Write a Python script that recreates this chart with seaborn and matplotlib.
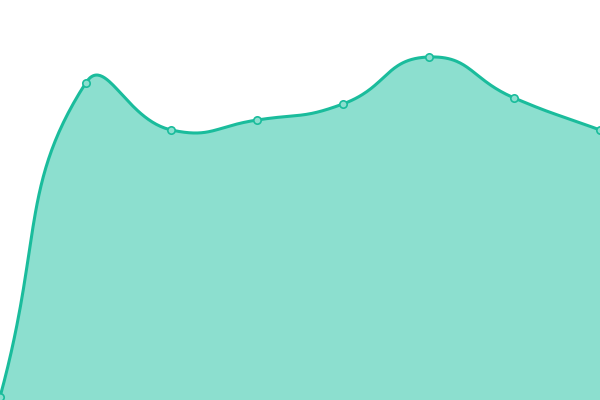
import numpy as np
import pandas as pd
import seaborn as sns
import matplotlib
matplotlib.use("Agg")
import matplotlib.pyplot as plt

# chart data
x_idx = [0, 1, 2, 3, 4, 5, 6, 7]
values = [3, 317, 270, 280, 296, 343, 302, 270]

line_color = "#1abc9c"
fill_color = "#8cdfcf"

sns.set_style("white")

# smooth bezier path like echarts smooth line (in pixel-ish space)
x_scale = 600 / 7
px = np.array(x_idx) * x_scale
py = np.array(values, dtype=float)
smooth = 0.5
n = len(px)
cps = []
for i in range(n):
    pi = max(i - 1, 0)
    ni = min(i + 1, n - 1)
    vx = px[ni] - px[pi]
    vy = py[ni] - py[pi]
    l0 = np.hypot(px[i] - px[pi], py[i] - py[pi])
    l1 = np.hypot(px[ni] - px[i], py[ni] - py[i])
    r = l1 / (l0 + l1)
    prev_cp = (px[i] - vx * smooth * (1 - r), py[i] - vy * smooth * (1 - r))
    next_cp = (px[i] + vx * smooth * r, py[i] + vy * smooth * r)
    cps.append((prev_cp, next_cp))

xs, ys = [], []
t = np.linspace(0, 1, 60)
for i in range(n - 1):
    p0 = np.array([px[i], py[i]])
    p1 = np.array(cps[i][1])
    p2 = np.array(cps[i + 1][0])
    p3 = np.array([px[i + 1], py[i + 1]])
    b = ((1 - t) ** 3)[:, None] * p0 + (3 * (1 - t) ** 2 * t)[:, None] * p1 \
        + (3 * (1 - t) * t ** 2)[:, None] * p2 + (t ** 3)[:, None] * p3
    xs.extend(b[:, 0] / x_scale)
    ys.extend(b[:, 1])

curve = pd.DataFrame({"x": xs, "y": ys})
pts = pd.DataFrame({"x": x_idx, "y": values})

fig = plt.figure(figsize=(6, 4), dpi=100)
ax = fig.add_axes([0, 0, 1, 1])
ax.fill_between(curve["x"], curve["y"], 0, color=fill_color, lw=0)
sns.lineplot(data=curve, x="x", y="y", ax=ax, color=line_color, lw=2.2, sort=False)
sns.scatterplot(data=pts, x="x", y="y", ax=ax, s=28, color=fill_color,
                edgecolor=line_color, linewidth=1.2, zorder=5)

ax.set_xlim(0, 7)
ax.set_ylim(0, 400)
ax.axis("off")
fig.savefig("out.png", dpi=100)
